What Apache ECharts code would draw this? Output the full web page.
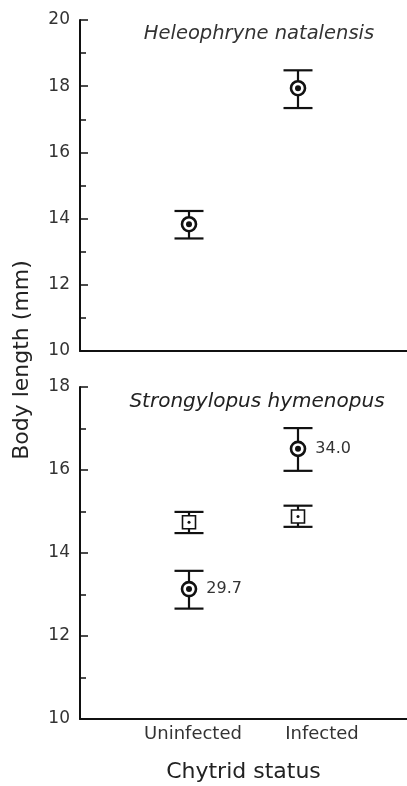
<!DOCTYPE html>
<html>
<head>
<meta charset="utf-8">
<script src="https://cdn.jsdelivr.net/npm/echarts@6/dist/echarts.min.js"></script>
<style>html,body{margin:0;padding:0;background:#fff;}#c{width:407px;height:786px;}</style>
</head>
<body>
<div id="c"></div>
<script>
// ---- data ----
const categories = ['Uninfected', 'Infected'];
const catPos = [1, 2];
// Heleophryne natalensis (top panel)
const heleoMean = [13.83, 17.94];
const heleoLow  = [13.40, 17.34];
const heleoHigh = [14.23, 18.48];
// Strongylopus hymenopus (bottom panel) - circles
const strCircMean = [13.13, 16.51];
const strCircLow  = [12.66, 15.98];
const strCircHigh = [13.57, 17.01];
// Strongylopus hymenopus - squares
const strSqMean = [14.74, 14.88];
const strSqLow  = [14.48, 14.63];
const strSqHigh = [14.99, 15.14];
const nLabels = ['29.7', '34.0'];
const topTicks = [10, 12, 14, 16, 18, 20];
const botTicks = [10, 12, 14, 16, 18];

const FONT = 'DejaVu Sans';
const chart = echarts.init(document.getElementById('c'));

function errData(low, high) { return catPos.map((x, i) => [x, low[i], high[i]]); }
function ptData(mean) { return catPos.map((x, i) => [x, mean[i]]); }

function errSeries(idx, low, high) {
  return {
    type: 'custom', xAxisIndex: idx, yAxisIndex: idx, z: 2,
    data: errData(low, high),
    renderItem: function (params, api) {
      const x = api.value(0);
      const lo = api.coord([x, api.value(1)]);
      const hi = api.coord([x, api.value(2)]);
      const w = 14.5;
      const st = { stroke: '#111', lineWidth: 2.2 };
      return { type: 'group', children: [
        { type: 'line', shape: { x1: lo[0], y1: lo[1], x2: hi[0], y2: hi[1] }, style: st },
        { type: 'line', shape: { x1: lo[0] - w, y1: lo[1], x2: lo[0] + w, y2: lo[1] }, style: st },
        { type: 'line', shape: { x1: hi[0] - w, y1: hi[1], x2: hi[0] + w, y2: hi[1] }, style: st }
      ]};
    }
  };
}
function ringSeries(idx, mean, withLabel) {
  const s = {
    type: 'scatter', xAxisIndex: idx, yAxisIndex: idx, z: 3,
    data: ptData(mean), symbol: 'circle', symbolSize: 14,
    itemStyle: { color: '#fff', borderColor: '#111', borderWidth: 2.6, opacity: 1 },
    emphasis: { disabled: true }
  };
  if (withLabel) {
    s.label = { show: true, position: 'right', distance: 9, fontFamily: FONT, fontSize: 16, color: '#333',
      formatter: p => nLabels[p.dataIndex] };
  }
  return s;
}
function sqSeries(idx, mean) {
  return {
    type: 'scatter', xAxisIndex: idx, yAxisIndex: idx, z: 3,
    data: ptData(mean), symbol: 'rect', symbolSize: 13,
    itemStyle: { color: '#fff', borderColor: '#111', borderWidth: 1.6, opacity: 1 },
    emphasis: { disabled: true }
  };
}
function dotSeries(idx, mean, size) {
  return {
    type: 'scatter', xAxisIndex: idx, yAxisIndex: idx, z: 4,
    data: ptData(mean), symbol: 'circle', symbolSize: size,
    itemStyle: { color: '#111', opacity: 1 }, emphasis: { disabled: true }
  };
}

const yAxisBase = (min, max) => ({
  type: 'value', min: min, max: max, interval: 2,
  axisLine: { show: true, lineStyle: { color: '#111', width: 2 } },
  axisTick: { show: true, inside: true, length: 8, lineStyle: { color: '#111', width: 1.5 } },
  minorTick: { show: true, splitNumber: 2, length: 6, lineStyle: { color: '#111', width: 1.5 } },
  splitLine: { show: false },
  axisLabel: { fontFamily: FONT, fontSize: 17, color: '#333', margin: 10 }
});

const option = {
  animation: false,
  backgroundColor: '#fff',
  grid: [
    { left: 80, right: 0, top: 20, height: 331 },
    { left: 80, right: 0, top: 387, height: 332 }
  ],
  xAxis: [
    { gridIndex: 0, type: 'value', min: 0, max: 3,
      axisLine: { show: true, onZero: false, lineStyle: { color: '#111', width: 2 } },
      axisTick: { show: false }, axisLabel: { show: false }, splitLine: { show: false } },
    { gridIndex: 1, type: 'value', min: 0, max: 3,
      axisLine: { show: true, onZero: false, lineStyle: { color: '#111', width: 2 } },
      axisTick: { show: false }, splitLine: { show: false },
      axisLabel: { show: true, customValues: catPos, margin: 6,
        formatter: v => (v === 1 ? '{u|' + categories[0] + '}' : '{i|' + categories[1] + '}'),
        rich: {
          u: { fontFamily: FONT, fontSize: 18, color: '#333', padding: [0, 0, 0, 8] },
          i: { fontFamily: FONT, fontSize: 18, color: '#333', padding: [0, 0, 0, 48] }
        } },
      name: 'Chytrid status', nameLocation: 'middle', nameGap: 42,
      nameTextStyle: { fontFamily: FONT, fontSize: 22, color: '#222' } }
  ],
  yAxis: [
    Object.assign({ gridIndex: 0 }, yAxisBase(topTicks[0], topTicks[topTicks.length - 1])),
    Object.assign({ gridIndex: 1 }, yAxisBase(botTicks[0], botTicks[botTicks.length - 1]))
  ],
  graphic: [
    { type: 'text', x: 22, y: 360, rotation: Math.PI / 2,
      style: { text: 'Body length (mm)', fontFamily: FONT, fontSize: 22, fill: '#222', align: 'center', verticalAlign: 'middle' } },
    { type: 'text', x: 259, y: 34,
      style: { text: 'Heleophryne natalensis', fontFamily: FONT, fontStyle: 'italic', fontSize: 19.5, fill: '#333', align: 'center', verticalAlign: 'middle' } },
    { type: 'text', x: 257, y: 402,
      style: { text: 'Strongylopus hymenopus', fontFamily: FONT, fontStyle: 'italic', fontSize: 20, fill: '#222', align: 'center', verticalAlign: 'middle' } }
  ],
  series: [
    errSeries(0, heleoLow, heleoHigh),
    ringSeries(0, heleoMean, false),
    dotSeries(0, heleoMean, 6),
    errSeries(1, strSqLow, strSqHigh),
    sqSeries(1, strSqMean),
    dotSeries(1, strSqMean, 3),
    errSeries(1, strCircLow, strCircHigh),
    ringSeries(1, strCircMean, true),
    dotSeries(1, strCircMean, 6)
  ]
};
chart.setOption(option);
</script>
</body>
</html>
